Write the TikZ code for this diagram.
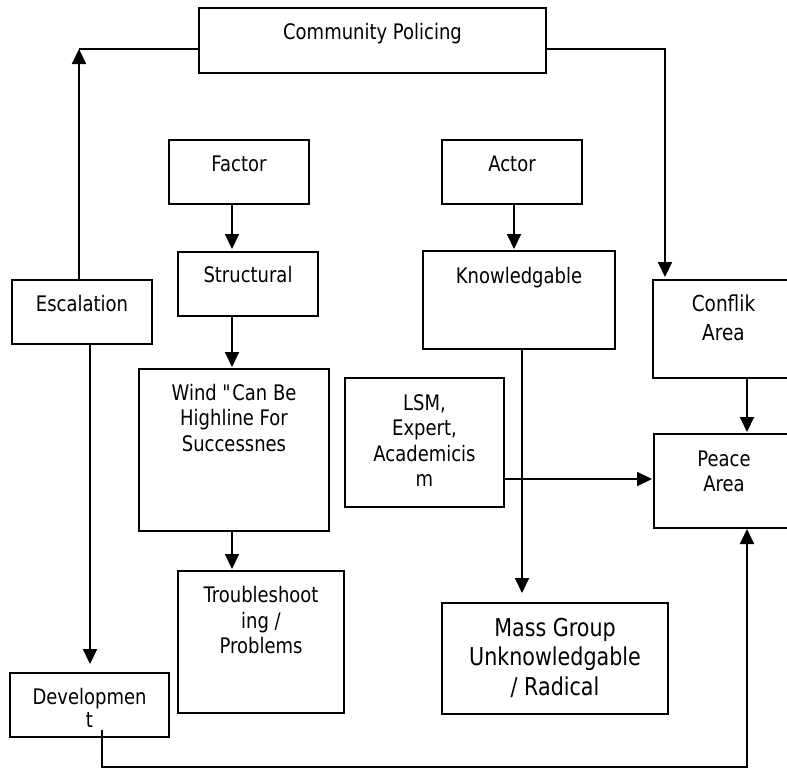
\documentclass[tikz,border=0pt]{standalone}
\usepackage{fontspec}
\setmainfont{DejaVu Sans}[FakeStretch=0.84]
\usetikzlibrary{arrows.meta}
\begin{document}
\begin{tikzpicture}[x=1pt,y=-1pt,
  box/.style={draw, line width=2pt, anchor=north west, inner sep=0pt},
  txt/.style={anchor=north, align=center, inner sep=0pt, font=\fontsize{21.4}{25.5}\selectfont},
  ln/.style={line width=2pt},
  arr/.style={ln, -{Triangle[length=15pt,width=14pt]}}]
\useasboundingbox (0,0) rectangle (787,769);
\clip (0,0) rectangle (787,769);
% boxes
\node[box, minimum width=347pt, minimum height=65pt] (cp) at (198,7) {};
\node[box, minimum width=140pt, minimum height=64pt] (factor) at (168,139) {};
\node[box, minimum width=140pt, minimum height=64pt] (actor) at (441,139) {};
\node[box, minimum width=140pt, minimum height=64pt] (struct) at (177,251) {};
\node[box, minimum width=140pt, minimum height=64pt] (esc) at (11,279) {};
\node[box, minimum width=192pt, minimum height=98pt] (know) at (422,250) {};
\node[box, minimum width=141pt, minimum height=98pt] (conf) at (652,279) {};
\node[box, minimum width=190pt, minimum height=162pt] (wind) at (138,368) {};
\node[box, minimum width=159pt, minimum height=129pt] (lsm) at (344,377) {};
\node[box, minimum width=140pt, minimum height=94pt] (peace) at (653,433) {};
\node[box, minimum width=166pt, minimum height=142pt] (trouble) at (177,570) {};
\node[box, minimum width=226pt, minimum height=111pt] (mass) at (441,602) {};
\node[box, minimum width=159pt, minimum height=64pt] (dev) at (9,672) {};
% texts
\node[txt] (tcp) at ([yshift=-14.6pt]cp.north) {\strut Community Policing};
\node[txt] (tfactor) at ([yshift=-14.8pt]factor.north) {\strut Factor};
\node[txt] (tactor) at ([yshift=-14.8pt]actor.north) {\strut Actor};
\node[txt] (tstruct) at ([yshift=-13.3pt]struct.north) {\strut Structural};
\node[txt] (tesc) at ([yshift=-14.8pt]esc.north) {\strut Escalation};
\node[txt] (tknow) at ([yshift=-15.4pt]know.north) {\strut Knowledgable};
\node[txt, font=\fontsize{22}{29}\selectfont] (tconf) at ([yshift=-12.4pt]conf.north) {\strut Conflik\\Area};
\node[txt] (twind) at ([yshift=-14pt]wind.north) {\strut Wind \textquotedbl Can Be\\Highline For\\Successnes};
\node[txt] (tlsm) at ([yshift=-15pt]lsm.north) {\strut LSM,\\Expert,\\Academicis\\m};
\node[txt] (tpeace) at ([yshift=-15pt]peace.north) {\strut Peace\\Area};
\node[txt] (ttrouble) at ([yshift=-14.8pt]trouble.north) {\strut Troubleshoot\\ing /\\Problems};
\node[txt, font=\fontsize{24.6}{29.5}\selectfont] (tmass) at ([yshift=-13.3pt]mass.north) {\strut Mass Group\\Unknowledgable\\/ Radical};
\node[txt, font=\fontsize{21.4}{23}\selectfont] (tdev) at ([yshift=-16pt]dev.north) {\strut Developmen\\t};
% helper coordinates
\coordinate (cornerL) at (79,49);
\coordinate (cornerR) at (665,49);
\coordinate (colA) at (232,0);
\coordinate (colActor) at (514,0);
\coordinate (colKnow) at (522,0);
\coordinate (colEsc) at (90,0);
\coordinate (colPeace) at (747,0);
\coordinate (rowLsm) at (0,479);
\coordinate (devstart) at (102,730);
\coordinate (bottomL) at (102,767);
\coordinate (bottomR) at (747,767);
% connectors
\draw[arr] (cornerL |- esc.north) -- (cornerL);
\draw[ln] (cornerL) -- (cornerL -| cp.west);
\draw[arr, shorten >=2pt] (cornerR -| cp.east) -- (cornerR) -- (cornerR |- conf.north);
\draw[arr, shorten >=2pt] (colA |- factor.south) -- (colA |- struct.north);
\draw[arr, shorten >=1pt] (colA |- struct.south) -- (colA |- wind.north);
\draw[arr, shorten >=1pt] (colA |- wind.south) -- (colA |- trouble.north);
\draw[arr, shorten >=1pt] (colActor |- actor.south) -- (colActor |- know.north);
\draw[arr, shorten >=9pt] (colKnow |- know.south) -- (colKnow |- mass.north);
\draw[arr, shorten >=8pt] (colEsc |- esc.south) -- (colEsc |- dev.north);
\draw[arr, shorten >=1pt] (colPeace |- conf.south) -- (colPeace |- peace.north);
\draw[arr, shorten >=1pt] (rowLsm -| lsm.east) -- (rowLsm -| peace.west);
\draw[arr] (devstart) -- (bottomL) -- (bottomR) -- (bottomR |- peace.south);
\end{tikzpicture}
\end{document}
